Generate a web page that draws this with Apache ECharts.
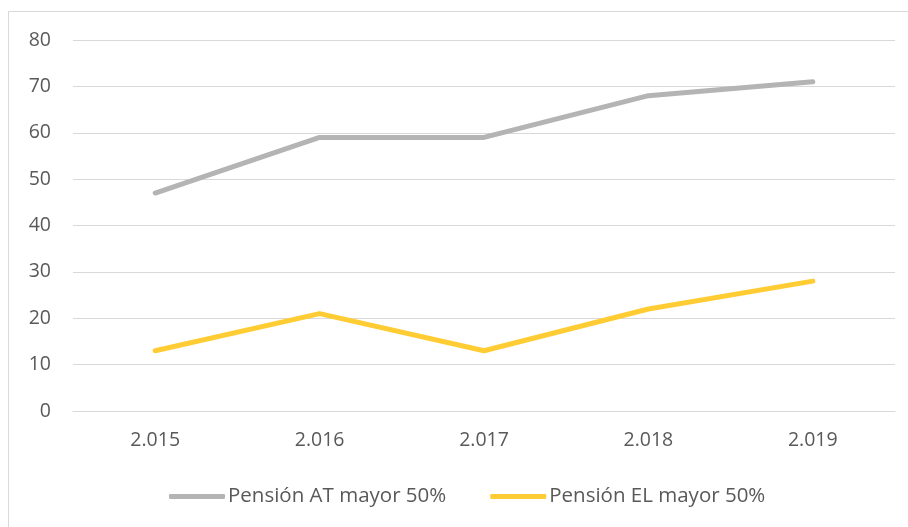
<!DOCTYPE html>
<html>
<head>
<meta charset="utf-8">
<script src="https://cdn.jsdelivr.net/npm/echarts@6/dist/echarts.min.js"></script>
<style>
  html, body { margin: 0; padding: 0; background: #fff; }
  #chart { width: 908px; height: 527px; }
</style>
</head>
<body>
<div id="chart"></div>
<script>
const years = ["2.015", "2.016", "2.017", "2.018", "2.019"];
const pensionAT = [47, 59, 59, 68, 71];
const pensionEL = [13, 21, 13, 22, 28];

const FONT = "Open Sans";

let myChart = echarts.init(document.getElementById("chart"));
option = {
    backgroundColor: "#fff",
    animation: false,
    graphic: [
        {
            // chart area border, runs off the right and bottom edges
            type: "rect",
            shape: { x: 8.5, y: 11.5, width: 1000, height: 1000 },
            style: { fill: "none", stroke: "#D9D9D9", lineWidth: 1 },
            silent: true,
        },
    ],
    grid: { left: 73, right: 13, top: 40, bottom: 116 },
    legend: {
        bottom: 15,
        left: 164,
        itemWidth: 56,
        itemHeight: 5,
        itemGap: 44,
        textStyle: { fontFamily: FONT, fontSize: 20.5, color: "#595959", padding: [0, 0, 0, -2] },
        data: [
            { name: "Pensión AT mayor 50%", icon: "roundRect" },
            { name: "Pensión EL mayor 50%", icon: "roundRect" },
        ],
    },
    xAxis: {
        type: "category",
        data: years,
        boundaryGap: true,
        axisLine: { lineStyle: { color: "#D9D9D9", width: 1 } },
        axisTick: { show: false },
        axisLabel: { fontFamily: FONT, fontSize: 19.5, color: "#595959", margin: 19 },
    },
    yAxis: {
        type: "value",
        min: 0,
        max: 80,
        interval: 10,
        axisLine: { show: false },
        axisTick: { show: false },
        axisLabel: { fontFamily: FONT, fontSize: 19.5, color: "#595959", margin: 22 },
        splitLine: { lineStyle: { color: "#D9D9D9", width: 1 } },
    },
    series: [
        {
            name: "Pensión AT mayor 50%",
            type: "line",
            data: pensionAT,
            symbol: "none",
            color: "#B4B4B4",
            lineStyle: { width: 5, cap: "round", join: "round" },
        },
        {
            name: "Pensión EL mayor 50%",
            type: "line",
            data: pensionEL,
            symbol: "none",
            color: "#FFCC33",
            lineStyle: { width: 5, cap: "round", join: "round" },
        },
    ],
};
myChart.setOption(option);
window.addEventListener("resize", function () {
    myChart.resize();
});
</script>
</body>
</html>
